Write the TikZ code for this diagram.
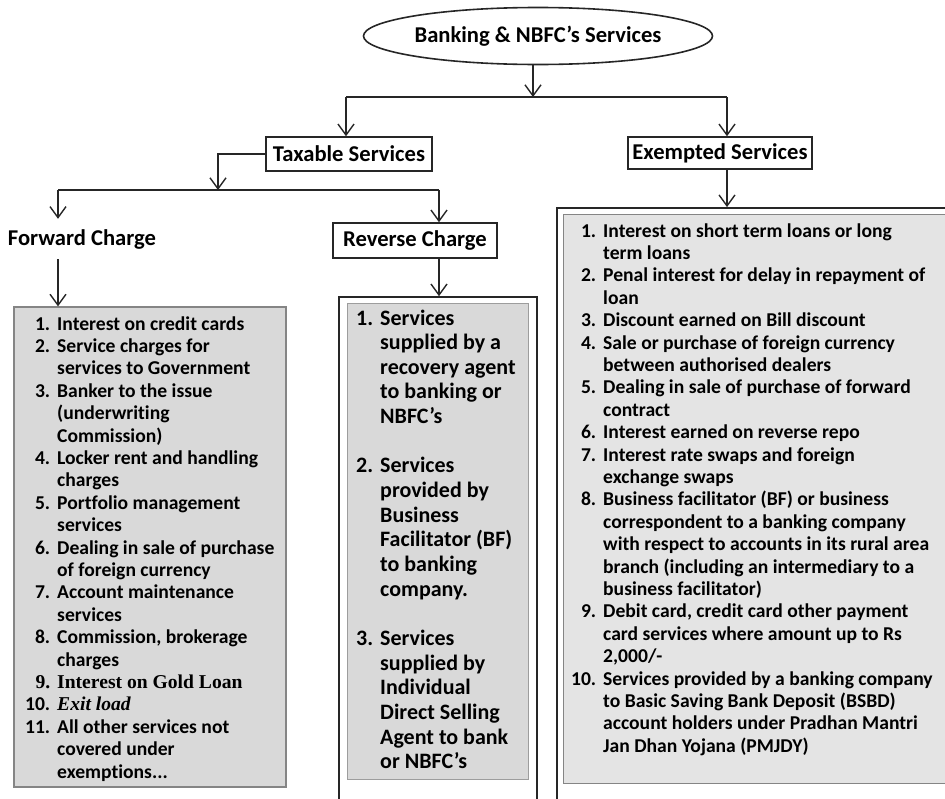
\documentclass[tikz,border=0pt]{standalone}
\usepackage{fontspec}
\setmainfont[Ligatures={NoCommon}]{Carlito}
\newfontfamily\serifb{Liberation Serif}
\usetikzlibrary{arrows.meta,shapes.geometric}
\definecolor{lc}{HTML}{262626}
\definecolor{fboxfill}{HTML}{D9D9D9}
\definecolor{efill}{HTML}{E4E4E4}
\definecolor{bgray}{HTML}{858585}
\newcommand\nbx[1]{\makebox[\nbw][r]{#1}}
\newlength\nbw
\begin{document}
\begin{tikzpicture}[x=1pt,y=-1pt,
  hdr/.style={font=\fontsize{22.6}{26}\selectfont\bfseries, inner sep=0pt, text=black},
  hbox/.style={hdr, draw=lc, line width=1.5pt, fill=white},
  conn/.style={draw=lc, line width=1.6pt},
  arr/.style={conn, -{Straight Barb[length=11pt,width=16pt,line width=1.4pt]}},
  listtxt/.style={inner sep=0pt, anchor=base west, text=black, font=\fontsize{19.6}{22.4}\selectfont\bfseries},
  revtxt/.style={inner sep=0pt, anchor=base west, text=black, font=\fontsize{22}{24.65}\selectfont\bfseries}
]
\useasboundingbox (0,0) rectangle (945,798);

% top
\node[hdr, ellipse, draw=lc, line width=1.6pt, minimum width=317pt, minimum height=57pt] (root) at (538,36) {Banking \& NBFC's Services};
\coordinate (busc) at (533,97);
\coordinate (busL) at (346,97);
\coordinate (busR) at (727,97);
\draw[arr] (root.south -| busc) -- (busc);
\draw[conn] (busL) -- (busR);

\node[hbox, minimum width=166pt, minimum height=34pt] (tax) at (349,154) {Taxable Services};
\node[hbox, minimum width=184pt, minimum height=32pt] (exm) at (720,153) {Exempted Services};
\draw[arr] (busL) -- (busL |- tax.north);
\draw[arr] (busR) -- (busR |- exm.north);

% taxable branch
\coordinate (bus2c) at (218,190);
\coordinate (bus2L) at (58,190);
\coordinate (bus2R) at (439,190);
\draw[arr] (tax.west) -| (bus2c);
\draw[conn] (bus2L) -- (bus2R);

\node[hdr, minimum height=40pt] (fwd) at (82,239) {Forward Charge};
\node[hbox, minimum width=164pt, minimum height=35pt] (rev) at (415,240.5) {Reverse Charge};
\draw[arr] (bus2L) -- (bus2L |- fwd.north);
\draw[arr] (bus2R) -- (bus2R |- rev.north);

% forward list box
\node[draw=bgray, line width=1.2pt, fill=fboxfill, minimum width=272pt, minimum height=480pt, inner sep=0pt] (flist) at (150,547) {};
\draw[arr] (fwd.south -| bus2L) -- (flist.north -| bus2L);

% reverse boxes
\node[draw=lc, line width=1.6pt, fill=white, minimum width=198pt, minimum height=513pt, inner sep=0pt] (rout) at (438,553.5) {};
\node[draw=bgray!80, line width=1pt, fill=fboxfill, minimum width=181pt, minimum height=476pt, inner sep=0pt] (rin) at (437.5,541) {};
\draw[arr] (rev.south -| bus2R) -- (rout.north -| bus2R);

% exempted boxes
\node[draw=lc, line width=1.8pt, fill=white, minimum width=403pt, minimum height=602pt, inner sep=0pt] (eout) at (758.5,509) {};
\node[draw=bgray, line width=1pt, fill=efill, minimum width=397pt, minimum height=569pt, inner sep=0pt] (ein) at (761.5,498.5) {};
\draw[arr] (exm.south -| busR) -- (eout.north -| busR);

% forward list text
\node[listtxt] (ftext) at (20,330) {\setlength\nbw{30pt}%
\begin{tabular}[t]{@{}l@{\hspace{7pt}}l@{}}
\nbx{1.} & Interest on credit cards\\
\nbx{2.} & Service charges for\\
 & services to Government\\
\nbx{3.} & Banker to the issue\\
 & (underwriting\\
 & Commission)\\
\nbx{4.} & Locker rent and handling\\
 & charges\\
\nbx{5.} & Portfolio management\\
 & services\\
\nbx{6.} & Dealing in sale of purchase\\
 & of foreign currency\\
\nbx{7.} & Account maintenance\\
 & services\\
\nbx{8.} & Commission, brokerage\\
 & charges\\
\nbx{\serifb\bfseries 9.} & {\serifb\bfseries Interest on Gold Loan}\\
\nbx{10.} & {\serifb\bfseries\itshape Exit load}\\
\nbx{11.} & All other services not\\
 & covered under\\
 & exemptions...
\end{tabular}};

% reverse list text
\node[revtxt] (rtext) at (352,325) {\setlength\nbw{21pt}%
\begin{tabular}[t]{@{}l@{\hspace{7pt}}l@{}}
\nbx{1.} & Services\\
 & supplied by a\\
 & recovery agent\\
 & to banking or\\
 & NBFC's\\
 & \\
\nbx{2.} & Services\\
 & provided by\\
 & Business\\
 & Facilitator (BF)\\
 & to banking\\
 & company.\\
 & \\
\nbx{3.} & Services\\
 & supplied by\\
 & Individual\\
 & Direct Selling\\
 & Agent to bank\\
 & or NBFC's
\end{tabular}};

% exempted list text
\node[listtxt] (etext) at (566,237) {\setlength\nbw{30pt}%
\begin{tabular}[t]{@{}l@{\hspace{7pt}}l@{}}
\nbx{1.} & Interest on short term loans or long\\
 & term loans\\
\nbx{2.} & Penal interest for delay in repayment of\\
 & loan\\
\nbx{3.} & Discount earned on Bill discount\\
\nbx{4.} & Sale or purchase of foreign currency\\
 & between authorised dealers\\
\nbx{5.} & Dealing in sale of purchase of forward\\
 & contract\\
\nbx{6.} & Interest earned on reverse repo\\
\nbx{7.} & Interest rate swaps and foreign\\
 & exchange swaps\\
\nbx{8.} & Business facilitator (BF) or business\\
 & correspondent to a banking company\\
 & with respect to accounts in its rural area\\
 & branch (including an intermediary to a\\
 & business facilitator)\\
\nbx{9.} & Debit card, credit card other payment\\
 & card services where amount up to Rs\\
 & 2,000/-\\
\nbx{10.} & Services provided by a banking company\\
 & to Basic Saving Bank Deposit (BSBD)\\
 & account holders under Pradhan Mantri\\
 & Jan Dhan Yojana (PMJDY)
\end{tabular}};
\end{tikzpicture}
\end{document}
